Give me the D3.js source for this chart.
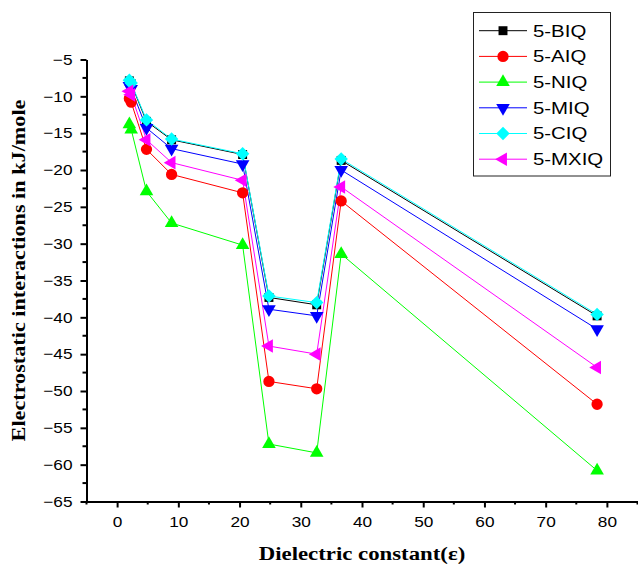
<!DOCTYPE html>
<html><head><meta charset="utf-8">
<script src="https://cdn.jsdelivr.net/npm/d3@7"></script>
<style>
html,body{margin:0;padding:0;background:#fff;}
svg{display:block;}
</style>
</head><body>
<svg id="chart" width="638" height="566"></svg>
<script>
// ---- data ----
const dielectric = [2.0, 2.3, 4.8, 8.9, 20.5, 24.8, 32.6, 36.6, 78.4];
const seriesNames = ["5-BIQ", "5-AIQ", "5-NIQ", "5-MIQ", "5-CIQ", "5-MXIQ"];
const BIQ  = [-7.9, -8.3, -13.4, -15.9, -17.9, -37.3, -38.3, -18.7, -39.8];
const AIQ  = [-10.3, -10.8, -17.2, -20.6, -23.1, -48.7, -49.7, -24.2, -51.8];
const NIQ  = [-13.8, -14.5, -22.9, -27.2, -30.2, -57.2, -58.4, -31.4, -60.8];
const MIQ  = [-8.6, -9.0, -14.3, -17.1, -19.2, -38.9, -39.8, -20.0, -41.6];
const CIQ  = [-7.8, -8.2, -13.2, -15.8, -17.8, -37.1, -38.0, -18.5, -39.6];
const MXIQ = [-9.3, -9.8, -15.9, -19.0, -21.4, -43.9, -45.0, -22.3, -46.8];
const xTicks = [0, 10, 20, 30, 40, 50, 60, 70, 80];
const yTicks = [-65, -60, -55, -50, -45, -40, -35, -30, -25, -20, -15, -10, -5];

const seriesValues = [BIQ, AIQ, NIQ, MIQ, CIQ, MXIQ];
const colors = ["#000000", "#ff0000", "#00ff00", "#0000ff", "#00ffff", "#ff00ff"];
const shapes = [
  {type: d3.symbolSquare, size: 80, rot: 0},
  {type: d3.symbolCircle, size: 100, rot: 0},
  {type: d3.symbolTriangle, size: 80, rot: 0},
  {type: d3.symbolTriangle, size: 80, rot: 180},
  {type: d3.symbolSquare, size: 90, rot: 45},
  {type: d3.symbolTriangle, size: 80, rot: -90}
];

const svg = d3.select("#chart");
const x = d3.scaleLinear().domain([-5, 85]).range([86.5, 637.5]);
const y = d3.scaleLinear().domain([-65, -5]).range([501.5, 59.5]);

const tickFont = "'Liberation Sans', Arial, sans-serif";
const serif = "'Liberation Serif', 'Times New Roman', serif";
const sx = 1.15;

// x axis
const gx = svg.append("g").attr("transform", `translate(0,${y(-65)})`)
  .call(d3.axisBottom(x).tickValues(xTicks).tickSize(6).tickSizeOuter(0).tickPadding(9).tickFormat(d3.format("d")));
gx.selectAll("text").attr("font-family", tickFont).attr("font-size", 15).attr("fill", "#000")
  .attr("transform", `scale(${sx},1)`);
gx.append("g").selectAll("line").data(d3.range(-5, 86, 10)).join("line")
  .attr("x1", d => x(d)).attr("x2", d => x(d)).attr("y1", 0).attr("y2", 3)
  .attr("stroke", "#000").attr("stroke-width", 2);

// y axis
const gy = svg.append("g").attr("transform", `translate(${x(-5)},0)`)
  .call(d3.axisLeft(y).tickValues(yTicks).tickSize(6).tickSizeOuter(0).tickPadding(8).tickFormat(d3.format("d")));
gy.selectAll("text").attr("font-family", tickFont).attr("font-size", 15).attr("fill", "#000")
  .attr("x", -14 / sx).attr("transform", `scale(${sx},1)`);
gy.append("g").selectAll("line").data(d3.range(-62.5, -5, 5)).join("line")
  .attr("y1", d => y(d)).attr("y2", d => y(d)).attr("x1", 0).attr("x2", -4)
  .attr("stroke", "#000").attr("stroke-width", 2);

[gx, gy].forEach(g => {
  g.select(".domain").attr("stroke", "#000").attr("stroke-width", 2);
  g.selectAll(".tick line").attr("stroke", "#000").attr("stroke-width", 2);
});

// lines and markers
const line = d3.line().x(d => x(d[0])).y(d => y(d[1]));
seriesValues.forEach((vals, i) => {
  const pts = dielectric.map((d, j) => [d, vals[j]]);
  svg.append("path").datum(pts).attr("d", line)
    .attr("fill", "none").attr("stroke", colors[i]).attr("stroke-width", 1);
});
seriesValues.forEach((vals, i) => {
  const pts = dielectric.map((d, j) => [d, vals[j]]);
  const sym = d3.symbol().type(shapes[i].type).size(shapes[i].size);
  svg.append("g").selectAll("path").data(pts).join("path")
    .attr("d", sym)
    .attr("transform", d => `translate(${x(d[0])},${y(d[1])}) rotate(${shapes[i].rot})`)
    .attr("fill", colors[i]);
});

// axis titles
svg.append("text")
  .attr("transform", "translate(362,560) scale(1.2,1)")
  .attr("text-anchor", "middle")
  .attr("font-family", serif)
  .attr("font-weight", "bold").attr("font-size", 19)
  .text("Dielectric constant(ε)");
svg.append("text")
  .attr("transform", "translate(25,270.5) rotate(-90) scale(1.17,1)")
  .attr("text-anchor", "middle")
  .attr("font-family", serif)
  .attr("font-weight", "bold").attr("font-size", 19)
  .text("Electrostatic interactions in kJ/mole");

// legend
const lg = svg.append("g");
lg.append("rect").attr("x", 473.5).attr("y", 12.5).attr("width", 137).attr("height", 163.5)
  .attr("fill", "#fff").attr("stroke", "#222").attr("stroke-width", 1);
seriesNames.forEach((name, i) => {
  const cy = 30.7 + i * 25.7;
  lg.append("line").attr("x1", 479).attr("x2", 527).attr("y1", cy).attr("y2", cy)
    .attr("stroke", colors[i]).attr("stroke-width", 1);
  const sym = d3.symbol().type(shapes[i].type).size(shapes[i].size);
  lg.append("path").attr("d", sym)
    .attr("transform", `translate(503,${cy}) rotate(${shapes[i].rot})`)
    .attr("fill", colors[i]);
  lg.append("text")
    .attr("x", 533 / 1.2).attr("y", cy + 6)
    .attr("transform", "scale(1.2,1)")
    .attr("font-family", tickFont).attr("font-size", 17).attr("fill", "#000")
    .text(name);
});
</script>
</body></html>
